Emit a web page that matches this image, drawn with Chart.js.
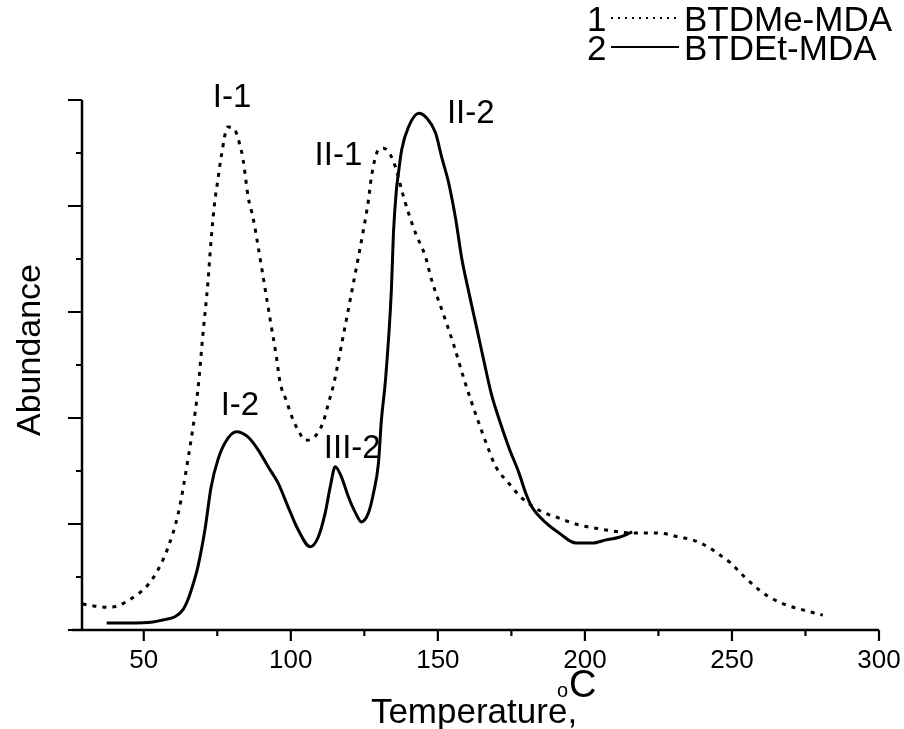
<!DOCTYPE html>
<html><head><meta charset="utf-8">
<script src="https://cdn.jsdelivr.net/npm/chart.js@4.4.1/dist/chart.umd.min.js"></script>
<style>html,body{margin:0;padding:0;background:#fff}#wrap{width:904px;height:729px;position:relative}</style>
</head><body><div id="wrap"><canvas id="c"></canvas></div>
<script>
// ---- data ----
const tempMe = [29.2,33.3,38.7,41.8,44.5,47.6,51.4,54.8,58.2,61.6,65.0,68.4,70.1,71.8,72.9,74.2,75.2,76.3,78.6,81.0,82.7,83.8,85.5,87.2,88.9,90.6,93.0,95.0,96.4,98.4,100.8,102.5,104.9,107.6,111.0,112.8,114.5,117.9,121.3,123.0,124.7,126.4,127.4,129.8,131.5,133.9,135.9,137.7,140.0,142.4,145.8,147.9,152.0,155.4,158.8,161.2,163.9,167.3,169.7,174.1,178.6,184.4,191.2,198.0,203.8,211.7,218.5,225.3,232.1,236.6,242.4,245.8,249.2,254.3,259.4,262.8,268.6,274.1,280.9];
const abundMe = [4.9,4.5,4.3,4.7,5.5,6.6,8.5,11.3,15.5,21.7,32.1,45.3,55.7,65.5,73.6,81.1,84.9,89.2,94.9,94.3,91.5,88.7,81.7,77.7,72.3,66.6,58.5,51.9,46.6,43.4,39.6,37.7,35.8,36.2,39.2,42.8,46.2,55.7,65.5,70.4,75.5,81.1,85.5,90.6,90.9,89.6,86.8,83.0,78.7,74.9,70.4,66.0,59.4,53.8,47.5,43.4,39.1,34.0,30.8,27.7,24.9,22.6,21.1,19.8,19.2,18.5,18.3,18.3,17.5,17.0,15.5,14.2,12.8,10.0,7.5,6.2,4.7,3.8,2.8];
const tempEt = [37.4,44.5,53.1,56.5,60.6,63.3,65.0,66.7,68.4,70.8,72.9,75.2,77.6,81.4,85.5,88.9,92.3,95.7,99.1,102.5,106.6,109.3,111.7,113.4,115.1,117.2,119.6,122.0,124.0,126.4,128.1,129.8,130.8,132.2,134.2,134.9,135.9,136.6,137.7,140.0,143.5,146.2,149.2,151.3,153.7,156.1,158.1,160.5,163.2,165.6,168.3,170.7,174.1,177.6,179.9,182.0,186.8,191.2,197.0,202.5,207.2,211.7,216.1];
const abundEt = [1.3,1.3,1.5,1.9,2.5,3.8,5.7,8.5,11.9,18.9,27.0,32.1,35.3,37.4,36.4,34.0,30.8,27.7,23.2,18.9,15.7,17.5,22.1,27.0,30.8,28.9,25.1,22.1,20.4,22.1,25.8,31.5,39.6,47.2,64.2,74.9,83.0,86.2,90.6,94.9,97.5,96.6,93.8,89.2,84.3,77.4,70.2,63.8,57.0,50.9,44.3,40.0,34.5,29.6,25.8,23.2,20.2,18.3,16.4,16.4,17.0,17.5,18.5];
const seriesLabels = ['BTDMe-MDA','BTDEt-MDA'];
const seriesNumbers = ['1','2'];
const xTickValues = [50,100,150,200,250,300];
const xMinorValues = [75,125,175,225,275];
const yMajorValues = [0,20,40,60,80,100];
const yMinorValues = [10,30,50,70,90];
const xTitle = 'Temperature,';
const xUnitSmall = 'o';
const xUnitBig = 'C';
const yTitle = 'Abundance';
const peakTexts = ['I-1','II-1','II-2','I-2','III-2'];

// ---- layout (not data) ----
const FONT = "'Liberation Sans', Arial, sans-serif";
const peakAnchors = [[80.0,98.7],[116.2,87.7],[161.2,95.7],[82.7,40.6],[120.9,32.5]];

const toXY = (xs, ys) => xs.map((v,i)=>({x:v, y:ys[i]}));

const decor = {
  id:'decor',
  afterDraw(chart){
    const {ctx, scales:{x, y}} = chart;
    const L = x.left, R = x.right, T = y.top, B = y.bottom;
    ctx.save();
    ctx.strokeStyle = '#000'; ctx.fillStyle = '#000';
    ctx.lineWidth = 2.5; ctx.lineCap = 'butt';
    // axes
    ctx.beginPath();
    ctx.moveTo(L, T); ctx.lineTo(L, B);
    ctx.moveTo(L-10, B); ctx.lineTo(R, B);
    ctx.stroke();
    ctx.lineWidth = 2.2;
    ctx.beginPath();
    xTickValues.forEach(v=>{const p=x.getPixelForValue(v); ctx.moveTo(p,B); ctx.lineTo(p,B+11);});
    xMinorValues.forEach(v=>{const p=x.getPixelForValue(v); ctx.moveTo(p,B); ctx.lineTo(p,B+6);});
    yMajorValues.forEach(v=>{const p=y.getPixelForValue(v); ctx.moveTo(L,p); ctx.lineTo(L-14,p);});
    yMinorValues.forEach(v=>{const p=y.getPixelForValue(v); ctx.moveTo(L,p); ctx.lineTo(L-6,p);});
    ctx.stroke();
    // x tick labels
    ctx.font = '26px ' + FONT; ctx.textAlign = 'center'; ctx.textBaseline = 'alphabetic';
    xTickValues.forEach(v=>ctx.fillText(String(v), x.getPixelForValue(v), B+38));
    // axis titles
    ctx.font = '35px ' + FONT;
    ctx.fillText(xTitle, 474, 723);
    ctx.textAlign='left';
    ctx.font = '20px ' + FONT;
    ctx.fillText(xUnitSmall, 557, 697);
    ctx.font = '38px ' + FONT;
    ctx.fillText(xUnitBig, 569, 697);
    ctx.save();
    ctx.translate(40, 350); ctx.rotate(-Math.PI/2);
    ctx.textAlign='center'; ctx.font='34px ' + FONT;
    ctx.fillText(yTitle, 0, 0);
    ctx.restore();
    // peak labels
    ctx.font = '33px ' + FONT; ctx.textAlign='center';
    peakTexts.forEach((t,i)=>ctx.fillText(t, x.getPixelForValue(peakAnchors[i][0]), y.getPixelForValue(peakAnchors[i][1])));
    // legend
    ctx.textAlign='left'; ctx.font='35px ' + FONT;
    const rows = [31, 60];
    chart.data.datasets.forEach((ds,i)=>{
      const by = rows[i];
      ctx.fillText(seriesNumbers[i], 587, by);
      ctx.beginPath();
      ctx.lineWidth = 2;
      ctx.setLineDash(i===0 ? [2,5] : []);
      ctx.moveTo(611, by-13); ctx.lineTo(679, by-13);
      ctx.stroke();
      ctx.setLineDash([]);
      ctx.fillText(ds.label, 684, by);
    });
    ctx.restore();
  }
};

new Chart(document.getElementById('c'), {
  type:'line',
  data:{datasets:[
    {label:seriesLabels[0], data:toXY(tempMe,abundMe), borderColor:'#000', borderWidth:3, borderDash:[4,6], pointRadius:0, cubicInterpolationMode:'monotone', fill:false},
    {label:seriesLabels[1], data:toXY(tempEt,abundEt), borderColor:'#000', borderWidth:3, pointRadius:0, cubicInterpolationMode:'monotone', fill:false}
  ]},
  options:{
    responsive:true, maintainAspectRatio:false, animation:false,
    layout:{padding:{left:82, right:25, top:100, bottom:99}},
    plugins:{legend:{display:false}, tooltip:{enabled:false}},
    scales:{
      x:{type:'linear', min:29, max:300, display:false},
      y:{type:'linear', min:0, max:100, display:false}
    }
  },
  plugins:[decor]
});
</script></body></html>
